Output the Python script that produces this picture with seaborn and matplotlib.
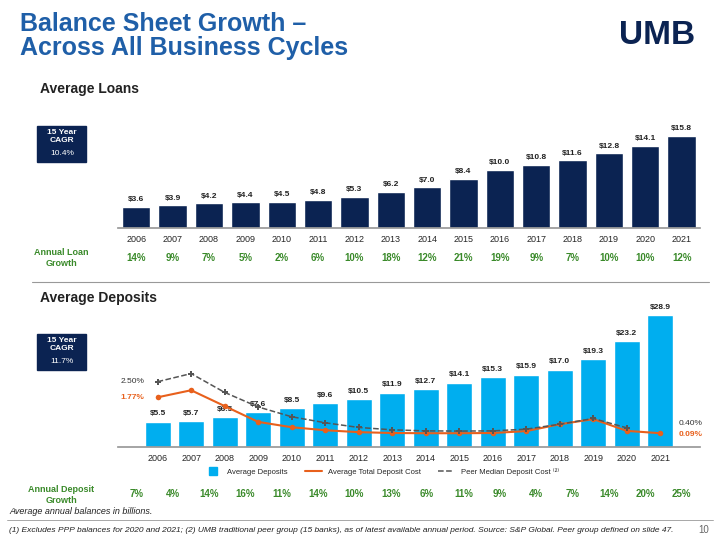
import matplotlib
matplotlib.use("Agg")
import matplotlib.pyplot as plt
import seaborn as sns
import pandas as pd
from matplotlib.patches import Rectangle
from matplotlib.lines import Line2D

years = [str(y) for y in range(2006, 2022)]
loans = [3.6, 3.9, 4.2, 4.4, 4.5, 4.8, 5.3, 6.2, 7.0, 8.4, 10.0, 10.8, 11.6, 12.8, 14.1, 15.8]
loan_growth = ["14%", "9%", "7%", "5%", "2%", "6%", "10%", "18%", "12%", "21%", "19%", "9%", "7%", "10%", "10%", "12%"]
deposits = [5.5, 5.7, 6.5, 7.6, 8.5, 9.6, 10.5, 11.9, 12.7, 14.1, 15.3, 15.9, 17.0, 19.3, 23.2, 28.9]
dep_growth = ["7%", "4%", "14%", "16%", "11%", "14%", "10%", "13%", "6%", "11%", "9%", "4%", "7%", "14%", "20%", "25%"]
umb_cost = [1.77, 2.1, 1.36, 0.62, 0.37, 0.23, 0.14, 0.10, 0.09, 0.09, 0.10, 0.19, 0.51, 0.75, 0.20, 0.09]
peer_cost = [2.50, 2.88, 2.0, 1.32, 0.86, 0.58, 0.36, 0.25, 0.20, 0.19, 0.20, 0.28, 0.51, 0.78, 0.34]

NAVY = "#0b2352"; CYAN = "#00aeef"; ORANGE = "#e8601c"; BLUE = "#1f5fa8"; GREEN = "#3a8a2a"
sns.set_theme(style="white")
plt.rcParams['font.family'] = ['Liberation Sans', 'DejaVu Sans']

fig = plt.figure(figsize=(7.2, 5.4), dpi=100)
fig.text(0.028, 0.978, "Balance Sheet Growth –\nAcross All Business Cycles", color=BLUE,
         fontsize=18, fontweight="bold", va="top", linespacing=1.0)
fig.text(0.965, 0.935, "UMB", color=NAVY, fontsize=24, fontweight="bold", ha="right", va="center")
fig.text(0.055, 0.828, "Average Loans", fontsize=10, fontweight="bold", color="#222222")
fig.text(0.055, 0.44, "Average Deposits", fontsize=10, fontweight="bold", color="#222222")
fig.add_artist(Line2D([0.045, 0.985], [0.478, 0.478], color="#999999", lw=0.8))

# Loans
ax1 = fig.add_axes([0.164, 0.578, 0.808, 0.189])
df1 = pd.DataFrame({"year": years, "val": loans})
sns.barplot(data=df1, x="year", y="val", color=NAVY, ax=ax1, width=0.78, saturation=1)
for i, v in enumerate(loans):
    ax1.text(i, v + 0.6, f"${v:.1f}", ha="center", va="bottom", fontsize=6, fontweight="bold", color="#222222")
ax1.set_ylim(0, 17.5); ax1.set_yticks([]); ax1.set_xlabel(""); ax1.set_ylabel("")
ax1.tick_params(axis="x", labelsize=6.5, length=0, pad=5)
for s in ["top", "left", "right"]:
    ax1.spines[s].set_visible(False)
ax1.spines["bottom"].set_color("#999999")

# Deposits
ax2 = fig.add_axes([0.164, 0.172, 0.808, 0.272])
df2 = pd.DataFrame({"year": years, "val": deposits})
sns.barplot(data=df2, x="year", y="val", color=CYAN, ax=ax2, width=0.78, saturation=1)
for i, v in enumerate(deposits):
    ax2.text(i, v + 1.0, f"${v:.1f}", ha="center", va="bottom", fontsize=6, fontweight="bold", color="#222222")
ax2.set_ylim(0, 32.2); ax2.set_yticks([]); ax2.set_xlabel(""); ax2.set_ylabel("")
ax2.tick_params(axis="x", labelsize=6.5, length=0, pad=5)
for s in ["top", "left", "right"]:
    ax2.spines[s].set_visible(False)
ax2.spines["bottom"].set_color("#999999")
ax3 = ax2.twinx()
sns.lineplot(x=list(range(16)), y=umb_cost, ax=ax3, color=ORANGE, marker="o", markersize=4, lw=1.5, markeredgewidth=0)
sns.lineplot(x=list(range(15)), y=peer_cost, ax=ax3, color="#555555", marker="P", markersize=4, lw=1.1, linestyle="--", markeredgewidth=0)
ax3.set_ylim(-0.56, 6.31); ax3.set_yticks([]); ax3.set_xlim(ax2.get_xlim())
for s in ax3.spines.values():
    s.set_visible(False)
ax3.text(-0.4, 2.50, "2.50%", ha="right", va="center", fontsize=6, color="#333333")
ax3.text(-0.4, 1.77, "1.77%", ha="right", va="center", fontsize=6, color=ORANGE, fontweight="bold")
ax3.text(15.55, 0.55, "0.40%", ha="left", va="center", fontsize=6, color="#333333")
ax3.text(15.55, 0.05, "0.09%", ha="left", va="center", fontsize=6, color=ORANGE, fontweight="bold")

# CAGR boxes
for y0, val in [(0.70, "10.4%"), (0.315, "11.7%")]:
    fig.add_artist(Rectangle((0.052, y0), 0.068, 0.067, color=NAVY, transform=fig.transFigure))
    fig.text(0.086, y0 + 0.034, "15 Year\nCAGR", color="white", fontsize=6, fontweight="bold", ha="center", va="bottom", linespacing=1.1)
    fig.text(0.086, y0 + 0.016, val, color="white", fontsize=6, ha="center", va="center")

# growth rows
fig.text(0.085, 0.522, "Annual Loan\nGrowth", color=GREEN, fontsize=6.5, fontweight="bold", ha="center", va="center")
fig.text(0.085, 0.083, "Annual Deposit\nGrowth", color=GREEN, fontsize=6.5, fontweight="bold", ha="center", va="center")
for i in range(16):
    xf = 0.164 + 0.808 * (i + 0.5) / 16
    fig.text(xf, 0.522, loan_growth[i], color=GREEN, fontsize=7, fontweight="bold", ha="center", va="center")
    fig.text(xf, 0.085, dep_growth[i], color=GREEN, fontsize=7, fontweight="bold", ha="center", va="center")

# legend
handles = [Line2D([], [], color=CYAN, marker="s", lw=0, markersize=6),
           Line2D([], [], color=ORANGE, lw=1.5),
           Line2D([], [], color="#555555", lw=1.1, ls="--")]
fig.legend(handles, ["Average Deposits", "Average Total Deposit Cost", "Peer Median Deposit Cost ⁽²⁾"],
           loc="center", bbox_to_anchor=(0.53, 0.126), ncol=3, frameon=False, fontsize=5.5, handlelength=2.2, columnspacing=2.2)

fig.text(0.013, 0.048, "Average annual balances in billions.", fontsize=6.5, style="italic", color="#222222")
fig.add_artist(Line2D([0.01, 0.99], [0.037, 0.037], color="#999999", lw=0.6))
fig.text(0.013, 0.018, "(1) Excludes PPP balances for 2020 and 2021; (2) UMB traditional peer group (15 banks), as of latest available annual period. Source: S&P Global. Peer group defined on slide 47.",
         fontsize=6, style="italic", color="#222222", va="center")
fig.text(0.985, 0.018, "10", fontsize=7, color="#666666", ha="right", va="center")

fig.savefig("out.png", dpi=100)
